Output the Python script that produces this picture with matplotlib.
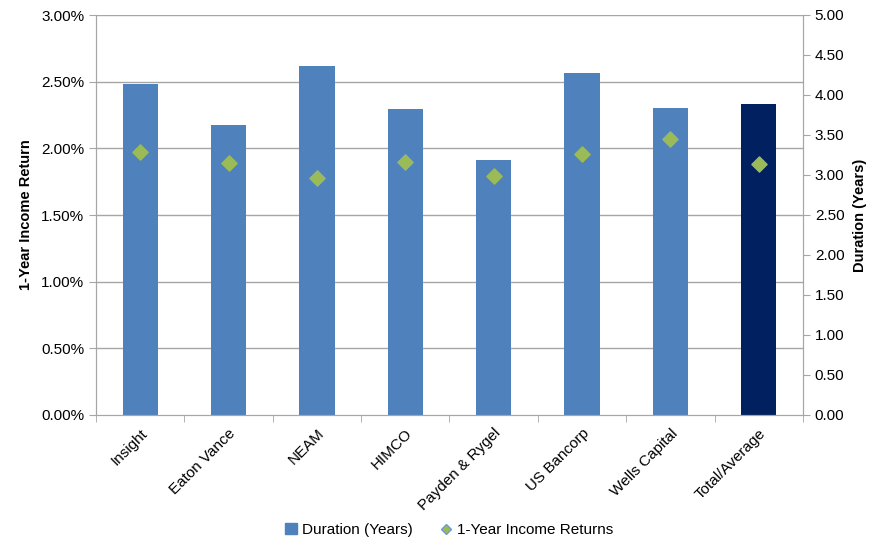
import matplotlib
matplotlib.use("Agg")
import matplotlib.pyplot as plt
import numpy as np
from matplotlib.ticker import FuncFormatter, MultipleLocator
from matplotlib.lines import Line2D
from matplotlib.patches import Patch

# ===================== data =====================
managers = ["Insight", "Eaton Vance", "NEAM", "HIMCO", "Payden & Rygel",
            "US Bancorp", "Wells Capital", "Total/Average"]
duration_years = [4.14, 3.63, 4.36, 3.82, 3.19, 4.28, 3.84, 3.89]
income_return_pct = [1.97, 1.89, 1.78, 1.90, 1.79, 1.955, 2.07, 1.88]

plt.rcParams["font.family"] = ["Liberation Sans", "DejaVu Sans"]
GRID = "#a6a6a6"

fig = plt.figure(figsize=(8.79, 5.43), dpi=100)
ax = fig.add_axes([96 / 879, 1 - 415 / 543, (803 - 96) / 879, 400 / 543])
ax2 = ax.twinx()

x = np.arange(len(managers))
bar_colors = ["#4f81bd"] * (len(managers) - 1) + ["#002060"]
ax2.bar(x, duration_years, width=0.4, color=bar_colors, zorder=2)
ax2.set_ylim(0, 5)
ax2.yaxis.set_major_locator(MultipleLocator(0.5))
ax2.yaxis.set_major_formatter(FuncFormatter(lambda v, p: f"{v:.2f}"))
ax2.set_ylabel("Duration (Years)", fontsize=10.5, fontweight="bold", labelpad=6)

# diamonds on the left axis, drawn above the bars
ax.set_zorder(ax2.get_zorder() + 1)
ax.patch.set_visible(False)
ax.scatter(x, income_return_pct, marker="D", s=60, color="#9bbb59",
           edgecolors="#9bbb59", zorder=3)
ax.set_ylim(0, 3)
ax.set_xlim(-0.5, len(managers) - 0.5)
ax.yaxis.set_major_locator(MultipleLocator(0.5))
ax.yaxis.set_major_formatter(FuncFormatter(lambda v, p: f"{v:.2f}%"))
ax.set_ylabel("1-Year Income Return", fontsize=10.5, fontweight="bold", labelpad=6)

# grid lines from left axis (drawn on ax2 so they sit behind bars)
for v in np.arange(0.5, 3.01, 0.5):
    ax2.axhline(v / 3 * 5, color=GRID, lw=1, zorder=1)

ax.set_xticks(x)
ax.set_xticklabels(managers, rotation=45, ha="right", rotation_mode="anchor",
                   fontsize=11)
ax.tick_params(axis="x", length=0, pad=8)
ax.set_xticks(np.arange(-0.5, len(managers)), minor=True)
ax.tick_params(axis="x", which="minor", length=5, color=GRID)

for a in (ax, ax2):
    for s in a.spines.values():
        s.set_color(GRID)
    a.spines["top"].set_visible(False)
    a.tick_params(axis="y", labelsize=11, color=GRID, length=5)
ax2.tick_params(axis="x", length=0)

handles = [Patch(color="#4f81bd", label="Duration (Years)"),
           Line2D([], [], marker="D", ls="none", color="#9bbb59",
                  markeredgecolor="#6f9bd0", markersize=5,
                  label="1-Year Income Returns")]
fig.legend(handles=handles, loc="center", bbox_to_anchor=(449 / 879, 1 - 530 / 543),
           ncol=2, frameon=False, fontsize=11, handlelength=0.8,
           handletextpad=0.3, columnspacing=1.8)

fig.savefig("out.png", dpi=100)
